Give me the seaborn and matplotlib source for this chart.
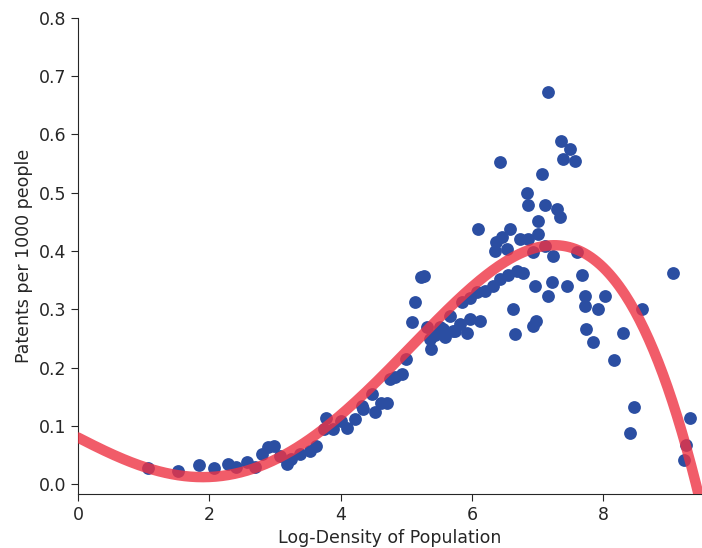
import numpy as np
import pandas as pd
import matplotlib
matplotlib.use("Agg")
import matplotlib.pyplot as plt
import seaborn as sns

log_density = [
    1.06, 1.53, 1.85, 2.07, 2.28, 2.41, 2.57, 2.69, 2.80, 2.90,
    2.98, 3.07, 3.19, 3.25, 3.38, 3.53, 3.63, 3.74, 3.78, 3.89,
    4.01, 4.09, 4.22, 4.32, 4.34, 4.47, 4.52, 4.62, 4.70, 4.75,
    4.83, 4.93, 5.00, 5.08, 5.13, 5.22, 5.27, 5.31, 5.38, 5.43,
    5.36, 5.51, 5.56, 5.59, 5.66, 5.71, 5.74, 5.81, 5.84, 5.92,
    5.97, 5.97, 6.07, 6.09, 6.12, 6.19, 6.32, 6.35, 6.37, 6.42,
    6.42, 6.45, 6.53, 6.55, 6.58, 6.63, 6.65, 6.68, 6.73, 6.78,
    6.83, 6.85, 6.85, 6.93, 6.93, 6.96, 6.98, 7.01, 7.01, 7.06,
    7.11, 7.11, 7.15, 7.16, 7.21, 7.23, 7.29, 7.34, 7.36, 7.39,
    7.44, 7.49, 7.56, 7.59, 7.67, 7.72, 7.72, 7.74, 7.84, 7.92,
    8.02, 8.16, 8.30, 8.40, 8.46, 8.58, 9.06, 9.22, 9.25, 9.32,
]
patents = [
    0.027, 0.023, 0.033, 0.027, 0.034, 0.030, 0.038, 0.030, 0.052, 0.063,
    0.066, 0.048, 0.034, 0.043, 0.052, 0.057, 0.066, 0.094, 0.113, 0.094,
    0.109, 0.097, 0.112, 0.134, 0.129, 0.155, 0.123, 0.140, 0.140, 0.180,
    0.183, 0.189, 0.215, 0.278, 0.312, 0.355, 0.357, 0.269, 0.232, 0.255,
    0.249, 0.269, 0.266, 0.252, 0.289, 0.263, 0.263, 0.275, 0.312, 0.260,
    0.283, 0.320, 0.329, 0.438, 0.280, 0.332, 0.340, 0.400, 0.415, 0.352,
    0.552, 0.424, 0.403, 0.358, 0.438, 0.300, 0.258, 0.366, 0.420, 0.363,
    0.500, 0.478, 0.420, 0.272, 0.398, 0.340, 0.280, 0.452, 0.429, 0.532,
    0.478, 0.409, 0.672, 0.323, 0.346, 0.392, 0.472, 0.458, 0.589, 0.558,
    0.340, 0.575, 0.555, 0.398, 0.358, 0.323, 0.306, 0.266, 0.244, 0.300,
    0.323, 0.213, 0.260, 0.088, 0.133, 0.300, 0.363, 0.041, 0.067, 0.114,
]

# quartic trend-curve coefficients (highest power first)
fit_coefficients = [-0.0006225, 0.006196, 0.002046, -0.05779, 0.08]

x_ticks = [0, 2, 4, 6, 8]
y_ticks = [0.0, 0.1, 0.2, 0.3, 0.4, 0.5, 0.6, 0.7, 0.8]

df = pd.DataFrame({"x": log_density, "y": patents})
grid = np.linspace(0, 9.5, 400)
fit_df = pd.DataFrame({"x": grid, "y": np.polyval(fit_coefficients, grid)})

sns.set_style("ticks")
plt.rcParams["font.family"] = ["DejaVu Sans"]

fig = plt.figure(figsize=(7.02, 5.48), dpi=100)
ax = fig.add_axes([0.111, 0.0985, 0.889, 0.869])

sns.scatterplot(data=df, x="x", y="y", s=85, color="#2b4ea2", linewidth=0,
                ax=ax, zorder=2)
sns.lineplot(data=fit_df, x="x", y="y", color="#ee3344", alpha=0.8,
             linewidth=7.5, ax=ax, zorder=3)

ax.set_xlim(0, 9.5)
ax.set_ylim(-0.017, 0.8)
ax.set_xticks(x_ticks)
ax.set_yticks(y_ticks)
ax.set_yticklabels([f"{v:.1f}" for v in y_ticks])
ax.set_xlabel("Log-Density of Population", fontsize=12.5)
ax.set_ylabel("Patents per 1000 people", fontsize=12.5)
ax.tick_params(labelsize=12.5, length=5)
sns.despine(ax=ax)

fig.savefig("out.png", dpi=100)
